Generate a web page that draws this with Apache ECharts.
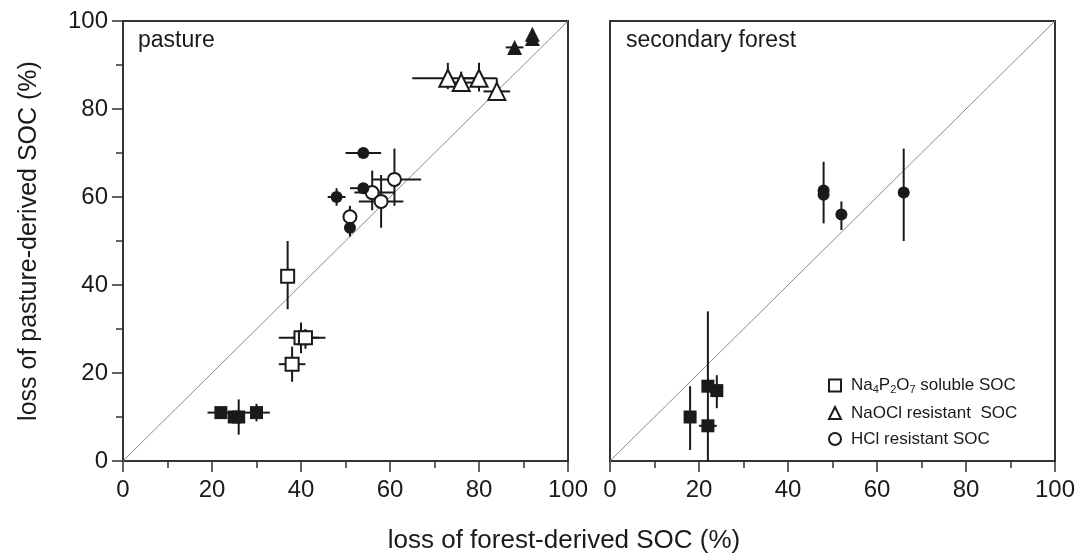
<!DOCTYPE html>
<html>
<head>
<meta charset="utf-8">
<script src="https://cdn.jsdelivr.net/npm/echarts@6/dist/echarts.min.js"></script>
<style>
  html, body { margin: 0; padding: 0; background: #fff; }
  #chart { width: 1079px; height: 559px; }
</style>
</head>
<body>
<div id="chart"></div>
<script>
// Rows: [x, y, xLow, xHigh, yLow, yHigh]  (loss of forest-derived SOC %, loss of pasture-derived SOC %)
// ---- pasture ----
const pastureSolubleOpen = [
  [37, 42, 37, 37, 34.5, 50],
  [40, 28, 35, 44, 24.5, 31.5],
  [41, 28, 38, 45.5, 25.5, 30],
  [38, 22, 35, 41, 18, 26]
];
const pastureSolubleFilled = [
  [22, 11, 19, 25, 11, 11],
  [25, 10, 25, 25, 10, 10],
  [26, 10, 26, 26, 6, 14],
  [30, 11, 27, 33, 9, 13]
];
const pastureNaOClOpen = [
  [73, 87, 65, 79, 84.5, 90.5],
  [76, 86, 73, 79, 84, 88.5],
  [80, 87, 76, 84, 84, 90.5],
  [84, 84, 81, 87, 82, 87]
];
const pastureNaOClFilled = [
  [88, 94, 86, 90, 94, 94],
  [92, 96, 92, 92, 96, 96],
  [92, 97, 92, 92, 97, 97]
];
const pastureHClOpen = [
  [51, 55.5, 50, 52, 53, 58],
  [56, 61, 52, 61, 57, 66],
  [58, 59, 53, 63, 53, 65],
  [61, 64, 56, 67, 58, 71]
];
const pastureHClFilled = [
  [54, 70, 50, 58, 70, 70],
  [54, 62, 51, 57, 62, 62],
  [48, 60, 46, 50, 58, 62],
  [51, 53, 51, 51, 51, 55]
];
// ---- secondary forest ----
const forestSolubleFilled = [
  [18, 10, 18, 18, 2.5, 17],
  [22, 17, 22, 22, 0, 34],
  [24, 16, 24, 24, 12, 19.5],
  [22, 8, 20, 24, 8, 8]
];
const forestHClFilled = [
  [48, 61.5, 48, 48, 54, 68],
  [48, 60.5, 48, 48, 60.5, 60.5],
  [52, 56, 52, 52, 52.5, 59],
  [66, 61, 66, 66, 50, 71]
];
const oneToOne = [[0, 0], [100, 100]];
const axisTicks = [0, 20, 40, 60, 80, 100];

const legendNames = ['Na4P2O7 soluble SOC', 'NaOCl resistant  SOC', 'HCl resistant SOC'];

const FONT = '"Liberation Sans", Arial, sans-serif';
const INK = '#1a1a1a';

function errorBars(name, data, gridIndex) {
  return {
    name: name,
    type: 'custom',
    xAxisIndex: gridIndex,
    yAxisIndex: gridIndex,
    silent: true,
    z: 2,
    data: data,
    encode: { x: [0, 2, 3], y: [1, 4, 5] },
    renderItem: function (params, api) {
      const c = api.coord([api.value(0), api.value(1)]);
      const xl = api.coord([api.value(2), api.value(1)]);
      const xh = api.coord([api.value(3), api.value(1)]);
      const yl = api.coord([api.value(0), api.value(4)]);
      const yh = api.coord([api.value(0), api.value(5)]);
      const style = { stroke: INK, lineWidth: 2 };
      const children = [];
      if (xh[0] - xl[0] > 0.5) {
        children.push({ type: 'line', shape: { x1: xl[0], y1: c[1], x2: xh[0], y2: c[1] }, style: style });
      }
      if (yl[1] - yh[1] > 0.5) {
        children.push({ type: 'line', shape: { x1: c[0], y1: yl[1], x2: c[0], y2: yh[1] }, style: style });
      }
      return { type: 'group', children: children };
    }
  };
}

function points(name, data, gridIndex, symbol, size, open) {
  return {
    name: name,
    type: 'scatter',
    xAxisIndex: gridIndex,
    yAxisIndex: gridIndex,
    symbol: symbol,
    symbolSize: size,
    z: 4,
    data: data.map(function (r) { return [r[0], r[1]]; }),
    itemStyle: open
      ? { color: '#ffffff', borderColor: INK, borderWidth: 2, opacity: 1 }
      : { color: INK, borderColor: INK, borderWidth: 0, opacity: 1 }
  };
}

function diagonal(gridIndex) {
  return {
    name: 'diag' + gridIndex,
    type: 'line',
    xAxisIndex: gridIndex,
    yAxisIndex: gridIndex,
    data: oneToOne,
    symbol: 'none',
    silent: true,
    z: 1,
    lineStyle: { color: '#8a8a8a', width: 1 }
  };
}

function xAxisFor(gridIndex) {
  return {
    gridIndex: gridIndex,
    type: 'value',
    min: 0, max: 100, interval: 20,
    axisLine: { show: true, lineStyle: { color: '#333', width: 2 } },
    axisTick: { show: true, inside: false, length: 11, lineStyle: { color: '#333', width: 1.5 } },
    minorTick: { show: true, splitNumber: 2, length: 7, lineStyle: { color: '#333', width: 1.5 } },
    splitLine: { show: false },
    axisLabel: {
      fontSize: 24, fontFamily: FONT, color: INK, margin: 17,
      formatter: function (v) { return axisTicks.indexOf(v) >= 0 ? String(v) : ''; }
    }
  };
}

function yAxisFor(gridIndex, withLabels) {
  return {
    gridIndex: gridIndex,
    type: 'value',
    min: 0, max: 100, interval: 20,
    axisLine: { show: true, lineStyle: { color: '#333', width: 2 } },
    axisTick: { show: withLabels, inside: false, length: 11, lineStyle: { color: '#333', width: 1.5 } },
    minorTick: { show: withLabels, splitNumber: 2, length: 7, lineStyle: { color: '#333', width: 1.5 } },
    splitLine: { show: false },
    axisLabel: {
      show: withLabels, fontSize: 24, fontFamily: FONT, color: INK, margin: 15
    },
    name: withLabels ? 'loss of pasture-derived SOC (%)' : '',
    nameLocation: 'middle',
    nameGap: 81,
    nameRotate: 90,
    nameTextStyle: { fontSize: 25, fontFamily: FONT, color: INK }
  };
}

const chart = echarts.init(document.getElementById('chart'), null, { renderer: 'canvas' });

chart.setOption({
  animation: false,
  backgroundColor: '#ffffff',
  grid: [
    { left: 123, top: 21, width: 445, height: 440, show: true, borderColor: '#333', borderWidth: 2, backgroundColor: 'transparent' },
    { left: 610, top: 21, width: 445, height: 440, show: true, borderColor: '#333', borderWidth: 2, backgroundColor: 'transparent' }
  ],
  xAxis: [xAxisFor(0), xAxisFor(1)],
  yAxis: [yAxisFor(0, true), yAxisFor(1, false)],
  legend: {
    data: legendNames,
    orient: 'vertical',
    left: 823,
    top: 372,
    itemWidth: 12,
    itemHeight: 12,
    itemGap: 9,
    selectedMode: false,
    textStyle: {
      fontSize: 17, fontFamily: FONT, color: INK, padding: [0, 0, 0, 5],
      rich: {
        n: { fontSize: 17, fontFamily: FONT, color: INK },
        s: { fontSize: 11, fontFamily: FONT, color: INK, padding: [9, 0, 0, 0] }
      }
    },
    formatter: function (name) {
      if (name === legendNames[0]) {
        return '{n|Na}{s|4}{n|P}{s|2}{n|O}{s|7}{n| soluble SOC}';
      }
      return '{n|' + name + '}';
    }
  },
  graphic: [
    { type: 'text', left: 138, top: 29, style: { text: 'pasture', font: '23px ' + FONT, fill: INK } },
    { type: 'text', left: 626, top: 29, style: { text: 'secondary forest', font: '23px ' + FONT, fill: INK } },
    { type: 'text', x: 564, y: 541, style: { text: 'loss of forest-derived SOC (%)', font: '26px ' + FONT, fill: INK, align: 'center', verticalAlign: 'middle' } }
  ],
  series: [
    diagonal(0),
    diagonal(1),
    errorBars('err pasture soluble open', pastureSolubleOpen, 0),
    errorBars('err pasture soluble filled', pastureSolubleFilled, 0),
    errorBars('err pasture NaOCl open', pastureNaOClOpen, 0),
    errorBars('err pasture NaOCl filled', pastureNaOClFilled, 0),
    errorBars('err pasture HCl open', pastureHClOpen, 0),
    errorBars('err pasture HCl filled', pastureHClFilled, 0),
    errorBars('err forest soluble', forestSolubleFilled, 1),
    errorBars('err forest HCl', forestHClFilled, 1),
    points(legendNames[0], pastureSolubleOpen, 0, 'rect', 13, true),
    points('pasture soluble filled', pastureSolubleFilled, 0, 'rect', 13, false),
    points(legendNames[1], pastureNaOClOpen, 0, 'triangle', 17, true),
    points('pasture NaOCl filled', pastureNaOClFilled, 0, 'triangle', 15, false),
    points(legendNames[2], pastureHClOpen, 0, 'circle', 13, true),
    points('pasture HCl filled', pastureHClFilled, 0, 'circle', 12, false),
    points('forest soluble filled', forestSolubleFilled, 1, 'rect', 13, false),
    points('forest HCl filled', forestHClFilled, 1, 'circle', 12, false)
  ]
});
</script>
</body>
</html>
